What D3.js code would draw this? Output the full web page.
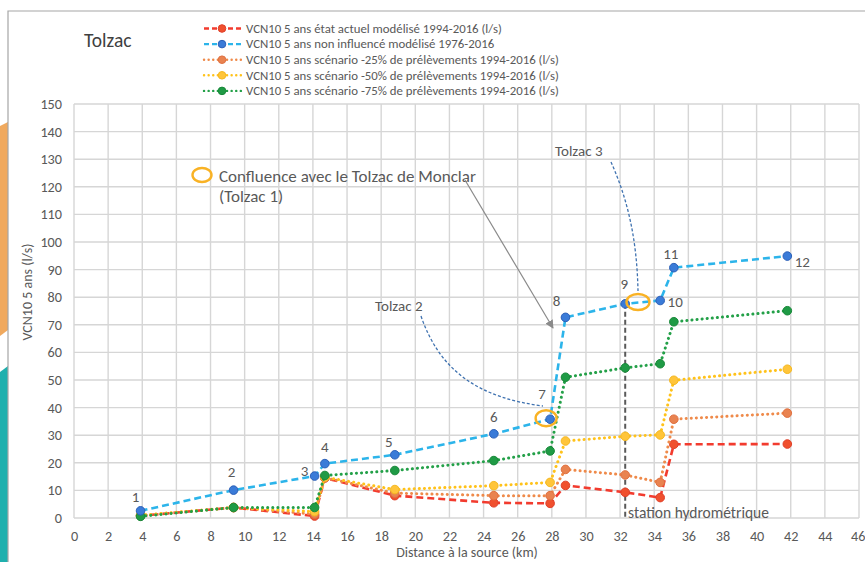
<!DOCTYPE html>
<html><head><meta charset="utf-8">
<script src="https://cdn.jsdelivr.net/npm/d3@7"></script>
<style>body{margin:0;background:#fff;}svg{display:block;font-family:Calibri,Carlito,"Open Sans","Liberation Sans",sans-serif;}</style>
</head><body>
<svg id="chart" width="865" height="562"></svg>
<script>
// ---- data ----
const distanceKm = [3.9, 9.35, 14.1, 14.7, 18.8, 24.6, 27.9, 28.8, 32.3, 34.35, 35.15, 41.8];
const pointLabels = ["1","2","3","4","5","6","7","8","9","10","11","12"];
const etatActuel = [0.8, 3.8, 0.7, 14.5, 8.1, 5.5, 5.3, 11.8, 9.3, 7.4, 26.7, 26.8];
const nonInfluence = [2.6, 10.1, 15.2, 19.7, 22.9, 30.5, 35.8, 72.7, 77.6, 78.8, 90.7, 94.9];
const scenario25 = [0.9, 3.8, 1.4, 14.6, 9.0, 8.1, 8.1, 17.6, 15.6, 12.9, 35.8, 38.0];
const scenario50 = [1.0, 3.8, 2.3, 14.8, 10.3, 11.7, 12.9, 27.9, 29.6, 30.1, 49.9, 53.9];
const scenario75 = [0.6, 3.8, 3.8, 15.4, 17.2, 20.8, 24.3, 51.0, 54.4, 55.9, 71.1, 75.1];
const seriesNames = [
  "VCN10  5 ans état actuel modélisé 1994-2016 (l/s)",
  "VCN10  5 ans non influencé modélisé 1976-2016",
  "VCN10  5 ans scénario -25% de prélèvements 1994-2016 (l/s)",
  "VCN10  5 ans scénario -50% de prélèvements 1994-2016 (l/s)",
  "VCN10  5 ans scénario -75% de prélèvements 1994-2016 (l/s)"
];
const xTicks = d3.range(0, 47, 2);
const yTicks = d3.range(0, 151, 10);
const stationKm = 32.3;
const stationValue = 77.6;

// ---- styles ----
const seriesData = [etatActuel, nonInfluence, scenario25, scenario50, scenario75];
const styles = [
  {line:"#F23B2E", fill:"#F0502E", stroke:"#E0402A", dash:"7,4", cap:"butt"},
  {line:"#2CB4EA", fill:"#3A7BD8", stroke:"#2C60B8", dash:"7,4", cap:"butt"},
  {line:"#EF8A4A", fill:"#E98350", stroke:"#E07040", dash:"0.1,5", cap:"round"},
  {line:"#FFC21A", fill:"#FFC53A", stroke:"#F5B820", dash:"0.1,5", cap:"round"},
  {line:"#23A048", fill:"#1F9A45", stroke:"#178838", dash:"0.1,5", cap:"round"}
];
const drawOrder = [0, 2, 3, 4, 1];
const labelOffsets = [[-5,-9],[-2,-13],[-10,0],[0,-12],[-6,-8],[0,-12],[-8,-20],[-9,-11],[-1,-15],[15,6],[-3,-9],[15,11]];

const svg = d3.select("#chart");
const x = d3.scaleLinear().domain([0, 46]).range([74, 859]);
const y = d3.scaleLinear().domain([0, 150]).range([518, 104]);
const textGray = "#595959";

// left decoration + frame
svg.append("path").attr("d","M0,126 L8,122 L8,330 L0,336 Z").attr("fill","#F0A95E");
svg.append("path").attr("d","M0,372 L8,366 L8,562 L0,562 Z").attr("fill","#1FB0AE");
svg.append("path").attr("d","M8,562 L8,11 L865,11").attr("fill","none").attr("stroke","#a6a6a6").attr("stroke-width",1.2);

// grid
const grid = svg.append("g");
grid.selectAll("line.v").data(xTicks).join("line")
  .attr("x1", d=>x(d)).attr("x2", d=>x(d)).attr("y1", y(150)).attr("y2", y(0))
  .attr("stroke","#d6d6d6").attr("stroke-width",1.4);
grid.selectAll("line.h").data(yTicks).join("line")
  .attr("x1", x(0)).attr("x2", x(46)).attr("y1", d=>y(d)).attr("y2", d=>y(d))
  .attr("stroke","#d6d6d6").attr("stroke-width",1.4);

// axes labels via d3 axes
const xAxis = svg.append("g").attr("transform",`translate(0,${y(0)})`)
  .call(d3.axisBottom(x).tickValues(xTicks).tickSize(0).tickPadding(13).tickFormat(d3.format("d")));
const yAxis = svg.append("g").attr("transform",`translate(${x(0)},0)`)
  .call(d3.axisLeft(y).tickValues(yTicks).tickSize(0).tickPadding(12).tickFormat(d3.format("d")));
[xAxis, yAxis].forEach(g => {
  g.select(".domain").remove();
  g.selectAll("text").attr("fill", textGray).style("font-size","14.2px").style("font-family",'Calibri,Carlito,"Open Sans",sans-serif');
});
// keep the last x label inside the window
xAxis.selectAll(".tick text").filter(d => d === 46).attr("text-anchor","end").attr("dx", 6);

svg.append("text").attr("x", 467).attr("y", 557).attr("text-anchor","middle")
  .attr("fill", textGray).style("font-size","14px").text("Distance à la source (km)");
svg.append("text").attr("transform","translate(32,292) rotate(-90)").attr("text-anchor","middle")
  .attr("fill", textGray).style("font-size","14px").text("VCN10  5 ans (l/s)");

// title
svg.append("text").attr("x", 84).attr("y", 47).attr("fill","#404040").style("font-size","19.5px").text("Tolzac");

// legend
const legend = svg.append("g");
seriesNames.forEach((name, i) => {
  const s = styles[i];
  const ly = 28.5 + i * 15.6;
  legend.append("line").attr("x1", 204).attr("x2", 241).attr("y1", ly).attr("y2", ly)
    .attr("stroke", s.line).attr("stroke-width", 2.4).attr("stroke-dasharray", i<2 ? "5,3" : "0.1,4.5")
    .attr("stroke-linecap", s.cap);
  legend.append("circle").attr("cx", 222).attr("cy", ly).attr("r", 3.8)
    .attr("fill", s.fill).attr("stroke", s.stroke).attr("stroke-width", 1);
  legend.append("text").attr("x", 246).attr("y", ly + 4.3).attr("fill", textGray)
    .style("font-size","12.8px").text(name);
});

// station vertical line
svg.append("line").attr("x1", x(stationKm)).attr("x2", x(stationKm))
  .attr("y1", y(stationValue)).attr("y2", y(0))
  .attr("stroke","#5a5a5a").attr("stroke-width",2).attr("stroke-dasharray","5,3");

// series
const lineGen = d3.line().x((d,i)=>x(distanceKm[i])).y(d=>y(d));
drawOrder.forEach(k => {
  const s = styles[k];
  const vals = seriesData[k];
  const g = svg.append("g");
  g.append("path").attr("d", lineGen(vals)).attr("fill","none")
    .attr("stroke", s.line).attr("stroke-width", k<2 ? 2.6 : 3)
    .attr("stroke-dasharray", s.dash).attr("stroke-linecap", s.cap);
  g.selectAll("circle").data(vals).join("circle")
    .attr("cx",(d,i)=>x(distanceKm[i])).attr("cy", d=>y(d)).attr("r", 4.3)
    .attr("fill", s.fill).attr("stroke", s.stroke).attr("stroke-width", 1);
});

// point labels
svg.append("g").selectAll("text").data(pointLabels).join("text")
  .attr("x",(d,i)=>x(distanceKm[i]) + labelOffsets[i][0])
  .attr("y",(d,i)=>y(nonInfluence[i]) + labelOffsets[i][1])
  .attr("text-anchor","middle").attr("fill", textGray).style("font-size","15px").text(d=>d);

// annotations
const orange = "#F9B224";
svg.append("ellipse").attr("cx",202).attr("cy",175).attr("rx",9.5).attr("ry",7).attr("fill","none").attr("stroke",orange).attr("stroke-width",2.4);
svg.append("text").attr("x",219).attr("y",182).attr("fill",textGray).style("font-size","17px").text("Confluence avec le Tolzac de Monclar");
svg.append("text").attr("x",219).attr("y",202).attr("fill",textGray).style("font-size","17px").text("(Tolzac 1)");
svg.append("defs").append("marker").attr("id","arr").attr("viewBox","0 0 10 10").attr("refX",9).attr("refY",5)
  .attr("markerWidth",7).attr("markerHeight",7).attr("orient","auto")
  .append("path").attr("d","M0,0 L10,5 L0,10 Z").attr("fill","#8a8a8a");
svg.append("line").attr("x1",465).attr("y1",180).attr("x2",553).attr("y2",328)
  .attr("stroke","#8a8a8a").attr("stroke-width",1.2).attr("marker-end","url(#arr)");

svg.append("text").attr("x",375).attr("y",311).attr("fill",textGray).style("font-size","15px").text("Tolzac 2");
svg.append("path").attr("d","M421,316 C440,372 480,398 543,406").attr("fill","none")
  .attr("stroke","#3F72B0").attr("stroke-width",1.3).attr("stroke-dasharray","3,2");
svg.append("text").attr("x",555).attr("y",156).attr("fill",textGray).style("font-size","15px").text("Tolzac 3");
svg.append("path").attr("d","M611,162 C628,200 637,240 638,291").attr("fill","none")
  .attr("stroke","#3F72B0").attr("stroke-width",1.3).attr("stroke-dasharray","3,2");
svg.append("ellipse").attr("cx",x(distanceKm[6])-4).attr("cy",y(nonInfluence[6])-1).attr("rx",10.5).attr("ry",8).attr("fill","none").attr("stroke",orange).attr("stroke-width",2.4);
svg.append("ellipse").attr("cx",638).attr("cy",302).attr("rx",11.5).attr("ry",8).attr("fill","none").attr("stroke",orange).attr("stroke-width",2.4);

svg.append("text").attr("x",628).attr("y",518).attr("fill",textGray).style("font-size","15.5px").text("station hydrométrique");
</script>
</body></html>
